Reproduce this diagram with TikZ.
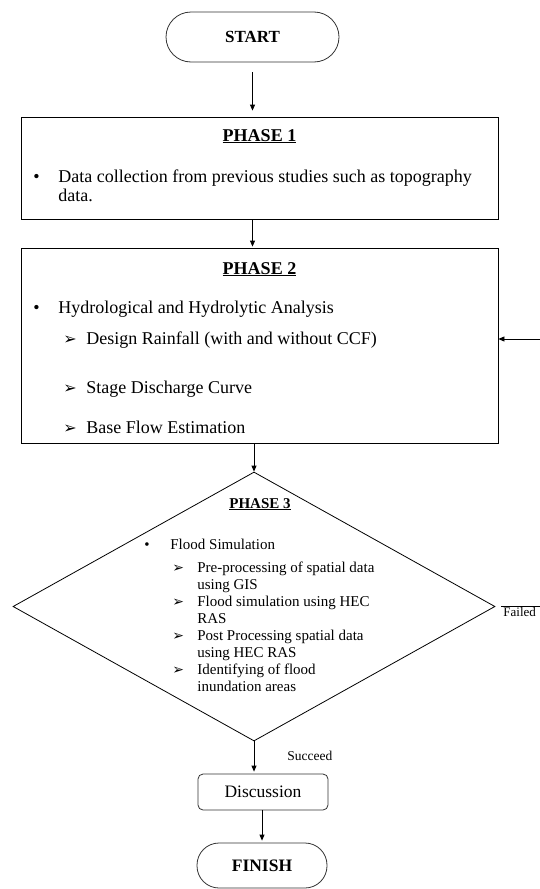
\documentclass[tikz,border=0pt]{standalone}
\usepackage{fontspec}
\setmainfont{Liberation Serif}
\newfontfamily\dvs{DejaVu Sans}
\usetikzlibrary{shapes.geometric,arrows.meta}
\newcommand{\fsz}[1]{\fontsize{#1}{#1}\selectfont}
\newcommand{\arrbig}{{\dvs\fontsize{16}{16}\selectfont ➢}}
\newcommand{\arrsml}{{\dvs\fontsize{14}{14}\selectfont ➢}}
\begin{document}
\begin{tikzpicture}[x=1pt,y=-1pt,line width=0.8pt,
  arr/.style={-{Triangle[length=6pt,width=5pt]}},
  box/.style={draw, minimum width=477pt, inner sep=0pt},
  term/.style={draw=black!80, inner sep=0pt},
  txt/.style={anchor=base west, inner sep=0pt},
  head/.style={anchor=base, inner sep=0pt}]
\useasboundingbox (0,0) rectangle (539,889);

% START
\node[term, rounded corners=25pt, minimum width=173pt, minimum height=50pt] (start) at (252.5,37) {\fsz{17}\bfseries START};

% PHASE 1
\node[box, minimum height=102pt] (p1) at (259.5,168) {};
\node[head] (p1h) at (259.5,141) {\fsz{18}\bfseries\underline{PHASE 1}};
\node[txt] (p1b) at (33,182) {\fsz{18}•};
\node[txt] (p1l1) at (58,182) {\fsz{18}Data collection from previous studies such as topography};
\node[txt] (p1l2) at (58,201) {\fsz{18}data.};

% PHASE 2
\node[box, minimum height=195pt] (p2) at (259.5,345.5) {};
\node[head] (p2h) at (259.5,274) {\fsz{18}\bfseries\underline{PHASE 2}};
\node[txt] (p2b) at (33,313) {\fsz{18}•};
\node[txt] (p2l0) at (58,313) {\fsz{18}Hydrological and Hydrolytic Analysis};
\node[txt] (p2a1) at (63,344) {\arrbig};
\node[txt] (p2l1) at (86,344) {\fsz{18}Design Rainfall (with and without CCF)};
\node[txt] (p2a2) at (63,393) {\arrbig};
\node[txt] (p2l2) at (86,393) {\fsz{18}Stage Discharge Curve};
\node[txt] (p2a3) at (63,433) {\arrbig};
\node[txt] (p2l3) at (86,433) {\fsz{18}Base Flow Estimation};

% PHASE 3 (diamond)
\node[draw, diamond, minimum width=482pt, minimum height=269pt, inner sep=0pt] (p3) at (254,606.5) {};
\node[head] (p3h) at (260,508) {\fsz{15}\bfseries\underline{PHASE 3}};
\node[txt] (p3b) at (144,549) {\fsz{15}•};
\node[txt] (p3l0) at (170,549) {\fsz{15}Flood Simulation};
\node[txt] (p3a1) at (172,572) {\arrsml};
\node[txt] (p3l1) at (197,572) {\fsz{15}Pre-processing of spatial data};
\node[txt] (p3l1b) at (197,589) {\fsz{15}using GIS};
\node[txt] (p3a2) at (172,606) {\arrsml};
\node[txt] (p3l2) at (197,606) {\fsz{15}Flood simulation using HEC};
\node[txt] (p3l2b) at (197,623) {\fsz{15}RAS};
\node[txt] (p3a3) at (172,640) {\arrsml};
\node[txt] (p3l3) at (197,640) {\fsz{15}Post Processing spatial data};
\node[txt] (p3l3b) at (197,657) {\fsz{15}using HEC RAS};
\node[txt] (p3a4) at (172,674) {\arrsml};
\node[txt] (p3l4) at (197,674) {\fsz{15}Identifying of flood};
\node[txt] (p3l4b) at (197,691) {\fsz{15}inundation areas};

% Discussion and FINISH
\node[term, rounded corners=5pt, minimum width=130pt, minimum height=36pt] (disc) at (263,792) {\fsz{17.5}Discussion};
\node[term, rounded corners=22pt, minimum width=130pt, minimum height=45pt] (fin) at (262,865.5) {\fsz{17.5}\bfseries FINISH};

% labels
\node[txt] (succ) at (287,760) {\fsz{13.5}Succeed};
\node[txt] (fail) at (503,616) {\fsz{13}Failed};

% connectors
\draw[arr, shorten <=10pt, shorten >=6pt] (start.south) -- (start.south |- p1.north);
\draw[arr, shorten >=1pt] (start.south |- p1.south) -- (start.south |- p2.north);
\draw[arr] (p3.north |- p2.south) -- (p3.north);
\draw[arr, shorten >=2pt] (p3.south) -- (p3.south |- disc.north);
\draw[arr, shorten >=2pt] (fin.north |- disc.south) -- (fin.north);
\coordinate (fb) at (560,339);
\draw[arr, shorten <=6pt] (p3.east) -- (fb |- p3.east) -- (fb) -- (fb -| p2.east);
\end{tikzpicture}
\end{document}
